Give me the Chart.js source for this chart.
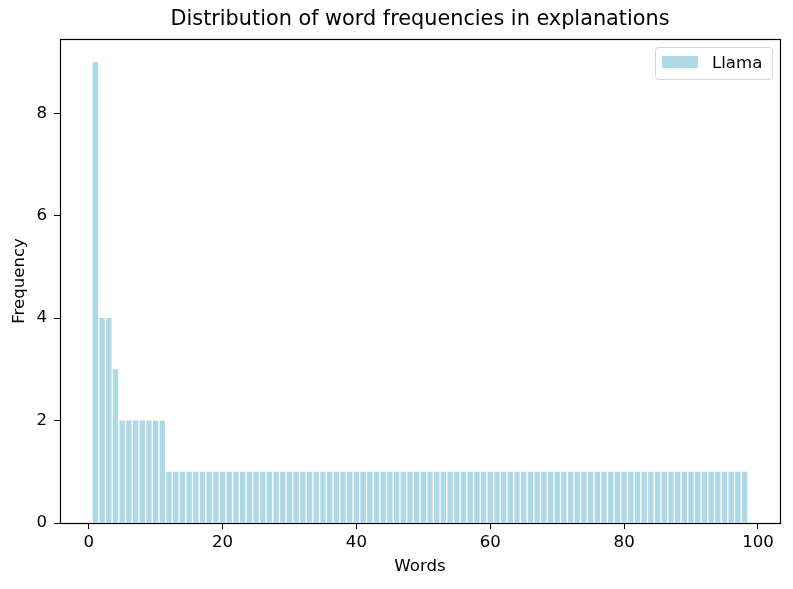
<!DOCTYPE html>
<html>
<head>
<meta charset="utf-8">
<script src="https://cdn.jsdelivr.net/npm/chart.js@4/dist/chart.umd.min.js"></script>
<style>
  html, body { margin: 0; padding: 0; background: #fff; }
  #wrap { width: 793px; height: 589px; }
</style>
</head>
<body>
<div id="wrap"><canvas id="freqChart" width="793" height="589"></canvas></div>
<script>
// Word frequencies, sorted by rank (word 1 .. word 98)
const frequencies = [
  9, 4, 4, 3, 2, 2, 2, 2, 2, 2, 2,
  1, 1, 1, 1, 1, 1, 1, 1, 1, 1, 1, 1, 1, 1, 1, 1, 1, 1, 1, 1,
  1, 1, 1, 1, 1, 1, 1, 1, 1, 1, 1, 1, 1, 1, 1, 1, 1, 1, 1, 1,
  1, 1, 1, 1, 1, 1, 1, 1, 1, 1, 1, 1, 1, 1, 1, 1, 1, 1, 1, 1,
  1, 1, 1, 1, 1, 1, 1, 1, 1, 1, 1, 1, 1, 1, 1, 1, 1, 1, 1, 1,
  1, 1, 1, 1, 1, 1, 1
];
const xTicks = [0, 20, 40, 60, 80, 100];
const yTicks = [0, 2, 4, 6, 8];
const seriesName = 'Llama';

const points = frequencies.map((f, i) => ({ x: i + 1, y: f }));

const FONT = "'DejaVu Sans', sans-serif";

// top/right spines like matplotlib
const framePlugin = {
  id: 'frame',
  afterDraw(chart) {
    const { ctx, chartArea: a } = chart;
    ctx.save();
    ctx.strokeStyle = '#000';
    ctx.lineWidth = 1.2;
    ctx.strokeRect(Math.round(a.left) + 0.5, Math.round(a.top) + 0.5,
      Math.round(a.right - a.left), Math.round(a.bottom - a.top));
    ctx.restore();
  }
};

// legend box in the upper right corner
const legendBox = {
  id: 'legendBox',
  afterDraw(chart) {
    const { ctx, chartArea: a } = chart;
    const ds = chart.data.datasets[0];
    const w = 117, h = 32;
    const x = a.right - 8 - w, y = a.top + 8;
    ctx.save();
    ctx.beginPath();
    ctx.roundRect(x + 0.5, y + 0.5, w, h, 3);
    ctx.fillStyle = 'rgba(255,255,255,0.8)';
    ctx.fill();
    ctx.strokeStyle = '#d6d6d6';
    ctx.lineWidth = 1;
    ctx.stroke();
    ctx.fillStyle = ds.backgroundColor;
    ctx.fillRect(x + 7, y + 9, 36, 12);
    ctx.fillStyle = '#000';
    ctx.font = '16.6px ' + FONT;
    ctx.textBaseline = 'middle';
    ctx.fillText(ds.label, x + 57, y + 16.5);
    ctx.restore();
  }
};

new Chart(document.getElementById('freqChart'), {
  type: 'bar',
  data: {
    datasets: [{
      label: seriesName,
      data: points,
      backgroundColor: '#add8e6',
      borderWidth: 0,
      barPercentage: 0.8,
      categoryPercentage: 1.0
    }]
  },
  options: {
    responsive: false,
    animation: false,
    layout: { padding: { left: 0, right: 13, top: 0, bottom: 0 } },
    plugins: {
      legend: { display: false },
      tooltip: { enabled: false },
      title: {
        display: true,
        fullSize: false,
        text: 'Distribution of word frequencies in explanations',
        color: '#000',
        font: { family: FONT, size: 20.8, weight: 'normal' },
        padding: { top: 7, bottom: 7 }
      }
    },
    scales: {
      x: {
        type: 'linear',
        offset: false,
        min: -4.29,
        max: 103.29,
        afterFit(s) { s.height = 66; },
        afterBuildTicks(s) { s.ticks = xTicks.map(v => ({ value: v })); },
        grid: { display: true, drawOnChartArea: false, drawTicks: true, tickLength: 6, color: '#000', offset: false },
        border: { display: false },
        ticks: { color: '#000', font: { family: FONT, size: 16.6 }, padding: 4, maxRotation: 0 },
        title: {
          display: true, text: 'Words', color: '#000',
          font: { family: FONT, size: 16.6 }, padding: { top: 4, bottom: 12 }
        }
      },
      y: {
        min: 0,
        max: 9.45,
        afterFit(s) { s.width = 60; },
        afterBuildTicks(s) { s.ticks = yTicks.map(v => ({ value: v })); },
        grid: { display: true, drawOnChartArea: false, drawTicks: true, tickLength: 6, color: '#000' },
        border: { display: false },
        ticks: { color: '#000', font: { family: FONT, size: 16.6 }, padding: 7 },
        title: {
          display: true, text: 'Frequency', color: '#000',
          font: { family: FONT, size: 16.6 }, padding: { top: 10, bottom: 4 }
        }
      }
    }
  },
  plugins: [framePlugin, legendBox]
});
</script>
</body>
</html>
